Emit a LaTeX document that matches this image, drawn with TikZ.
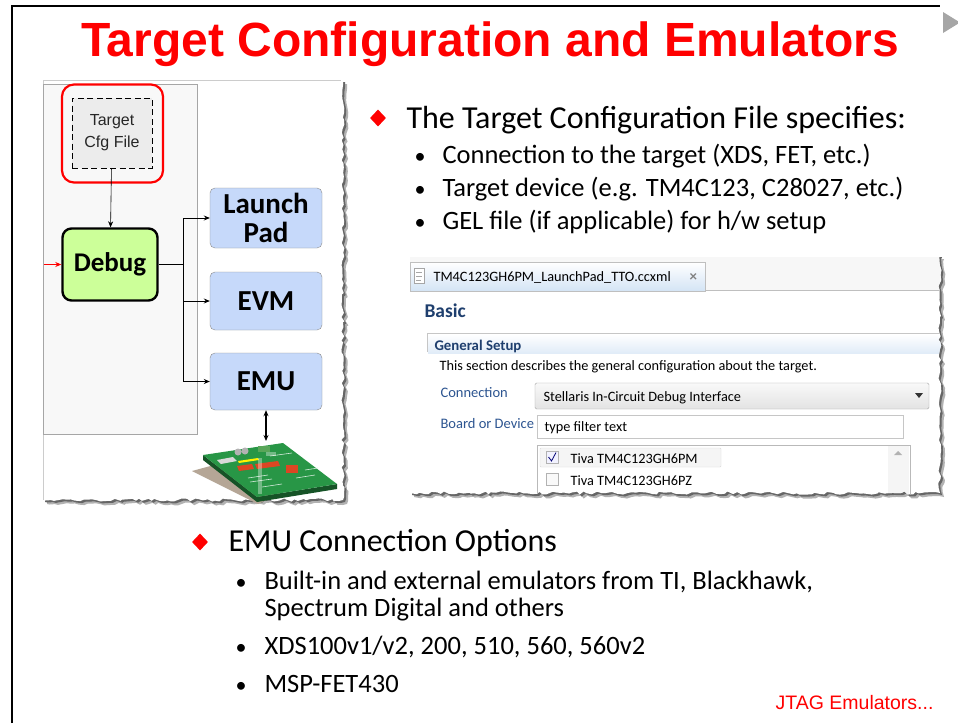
\documentclass[tikz,border=0pt]{standalone}
\usepackage{fontspec}
\setmainfont{Carlito}
\newfontfamily\arialfont{Liberation Sans}
\usetikzlibrary{shapes.geometric,decorations.pathmorphing,arrows.meta,positioning}

\definecolor{slidered}{RGB}{255,0,0}
\definecolor{debuggreen}{RGB}{204,255,153}
\definecolor{boardblue}{RGB}{198,217,250}
\definecolor{panelgray}{RGB}{248,248,248}
\definecolor{cfggray}{RGB}{236,236,236}
\definecolor{basicblue}{RGB}{31,63,110}
\definecolor{labelblue}{RGB}{45,85,145}
\definecolor{tabblue}{RGB}{212,228,245}
\definecolor{pcbgreen}{RGB}{40,150,70}

\begin{document}
\begin{tikzpicture}[x=1pt, y=-1pt, >={Stealth[length=6pt,width=5pt]},
  decoration={random steps, segment length=4pt, amplitude=1.6pt},
  headline/.style={anchor=base west, font=\fontsize{32}{34}\selectfont},
  item/.style={anchor=base west, font=\fontsize{26.5}{29}\selectfont},
  dot/.style={anchor=base west, font=\fontsize{22}{22}\selectfont},
  diam/.style={diamond, fill=slidered, inner sep=0pt, minimum width=16pt, minimum height=17pt},
  boardbox/.style={draw=black!45, fill=boardblue, rounded corners=5pt, minimum width=112pt,
    inner sep=0pt, align=center, font=\bfseries\fontsize{29}{29}\selectfont},
  ui/.style={anchor=base west, font=\fontsize{14.3}{16}\selectfont},
  uilabel/.style={ui, text=labelblue, font=\fontsize{14.5}{16}\selectfont}]

\useasboundingbox (0,0) rectangle (958,723);
\fill[white] (0,0) rectangle (958,723);

% slide frame and the next-slide marker
\draw[line width=2.6pt] (12,723) -- (12,6) -- (940,6);
\fill[gray!70] (943,12) -- (960,22.5) -- (943,33) -- cycle;

\node[font=\arialfont\bfseries\fontsize{48}{52}\selectfont, text=slidered] (title) at (490,44) {Target Configuration and Emulators};

% ---- left screenshot: block diagram ----
\pgfmathsetseed{11}
\fill[black!30, shift={(4,4)}] (43,80) -- (343,80) decorate{ -- (343,500) -- (43,500)} -- cycle;
\pgfmathsetseed{11}
\fill[black!60, shift={(2,2)}] (43,80) -- (343,80) decorate{ -- (343,500) -- (43,500)} -- cycle;
\pgfmathsetseed{11}
\fill[white] (43,80) -- (343,80) decorate{ -- (343,500) -- (43,500)} -- cycle;
\draw[gray!40] (43,500) -- (43,80) -- (341,80);
\draw[gray!70, fill=panelgray] (43,84) rectangle (197,434);

\node[draw, dash pattern=on 6pt off 3.5pt, thick, fill=cfggray, minimum width=80pt, minimum height=70pt, align=center,
  text=black!85, font=\arialfont\fontsize{16}{22}\selectfont] (cfg) at (112,133) {Target\\Cfg File};
\node[draw=slidered, line width=2.2pt, rounded corners=12pt, minimum width=101pt, minimum height=98pt] (cfgring) at (112.5,133.5) {};
\node[draw, line width=2.4pt, fill=debuggreen, rounded corners=9pt, minimum width=95pt, minimum height=72pt,
  font=\bfseries\fontsize{27}{30}\selectfont] (debug) at (110,264.5) {Debug};

\node[boardbox, minimum height=60pt] (launch) at (266,218) {Launch\\Pad};
\node[boardbox, minimum height=58pt] (evm) at (266,301) {EVM};
\node[boardbox, minimum height=57pt] (emu) at (266,381.5) {EMU};

\coordinate (feed) at (44,264.5);
\coordinate (split) at (183,264.5);
\coordinate (pcb) at (266,441);
\draw[->, semithick] (cfg) -- (debug);
\draw[->, slidered, thick] (feed) -- (debug);
\draw[thick] (debug) -- (split);
\draw[->, thick] (split) |- (launch);
\draw[->, thick] (split) |- (evm);
\draw[->, thick] (split) |- (emu);
\draw[<->, line width=1.6pt] (emu) -- (pcb);

% target board
\fill[brown!35!gray!70] (192,471) -- (262,452) -- (312,478) -- (258,504) -- cycle;
\fill[pcbgreen!55!black] (203,455) -- (257,497) -- (337,484) -- (337,489) -- (257,502) -- (203,460) -- cycle;
\fill[pcbgreen] (203,455) -- (283,443) -- (337,484) -- (257,497) -- cycle;
\fill[gray!30] (217,460) -- (233,457) -- (237,461) -- (221,464) -- cycle;
\fill[gray!60] (238,452) circle (3.5) (245,451) circle (3.5);
\fill[green!30!gray] (258,446) rectangle (270,452);
\fill[yellow] (238,461) -- (258,458) -- (259,460) -- (239,463) -- cycle;
\fill[red!45!brown] (237,466) -- (252,464) -- (254,469) -- (239,471) -- cycle;
\fill[red!45!brown] (255,464) -- (278,461) -- (280,466) -- (257,469) -- cycle;
\fill[red!45!brown] (286,465) rectangle (298,473);
\draw[white!80!pcbgreen, line width=0.6pt] (270,456) -- (292,453) (296,478) -- (315,475) (305,470) -- (318,468)
  (248,478) -- (268,475) (250,482) -- (272,479) (262,487) -- (282,484);
\fill[white, opacity=0.35] (258,458) -- (262,458) -- (262,494) -- (258,494) -- cycle;
\fill[white, opacity=0.35] (266,452) -- (276,452) -- (276,456) -- (266,456) -- cycle;

% ---- top right bullets ----
\node[diam] (d1) at (378,118) {};
\node[headline] (spec) at (403,128) {The Target Configuration File specifies:};
\foreach \y/\txt [count=\i] in {163/{Connection to the target (XDS, FET, etc.)},
                               196/{Target device (e.g. TM4C123, C28027, etc.)},
                               229/{GEL file (if applicable) for h/w setup}} {
  \node[dot] (dot\i) at (411,\y) {•};
  \node[item] (spec\i) at (439,\y) {\txt};
}

% ---- right screenshot: ccxml editor ----
\pgfmathsetseed{23}
\fill[black!30, shift={(4,4)}] (410,255) -- (940,255) decorate{ -- (940,493) -- (410,493)} -- cycle;
\pgfmathsetseed{23}
\fill[black!60, shift={(2,2)}] (410,255) -- (940,255) decorate{ -- (940,493) -- (410,493)} -- cycle;
\begin{scope}
\pgfmathsetseed{23}
\clip (410,255) -- (940,255) decorate{ -- (940,493) -- (410,493)} -- cycle;
\fill[white] (400,250) rectangle (950,500);
\fill[gray!6] (410,257) rectangle (950,290);
\shade[top color=white, bottom color=tabblue, draw=gray!50] (410,262) rectangle (705,291);
\draw[gray!50] (705,290) -- (950,290);
\draw[gray!70, fill=white] (414,268) rectangle (424,283);
\draw[gray!70] (416,272) -- (422,272) (416,276) -- (422,276) (416,280) -- (421,280);
\node[ui] (tab) at (430,281) {TM4C123GH6PM\_LaunchPad\_TTO.ccxml};
\node[ui, text=gray, font=\bfseries\fontsize{15}{16}\selectfont] (close) at (686,281) {×};
\node[ui, text=basicblue, font=\bfseries\fontsize{19.5}{21}\selectfont] (basic) at (421,317) {Basic};
\draw[gray!45] (427,352) -- (427,333) -- (950,333);
\shade[top color=white, bottom color=tabblue!70] (428,334) rectangle (950,353);
\node[ui, text=basicblue, font=\bfseries\fontsize{14.8}{16}\selectfont] (setup) at (431,350) {General Setup};
\node[ui] (descr) at (436,370) {This section describes the general configuration about the target.};
\node[uilabel] (conn) at (437,397) {Connection};
\shade[top color=gray!5, bottom color=gray!22, draw=gray!70, rounded corners=1.5pt] (535,383) rectangle (929,409);
\node[ui] (connval) at (540,401) {Stellaris In-Circuit Debug Interface};
\fill[black!80] (915,393) -- (923,393) -- (919,398) -- cycle;
\node[uilabel] (board) at (437,428) {Board or Device};
\draw[gray!45] (537,415) rectangle (903,438);
\node[ui] (filter) at (541,431) {type filter text};
\draw[gray!55] (537,445) rectangle (910,505);
\fill[gray!8] (888,446) rectangle (909,505);
\fill[gray!60] (894,455) -- (902,455) -- (898,451) -- cycle;
\draw[gray!30, fill=gray!8, rounded corners=1pt] (540,448) rectangle (721,467);
\draw[gray!60, fill=blue!5] (546,451) rectangle (558,463);
\draw[blue!45!black, thick] (548.5,457) -- (551.5,461) -- (556,452.5);
\node[ui] (dev1) at (567,463) {Tiva TM4C123GH6PM};
\draw[gray!60, fill=gray!5] (546,473) rectangle (558,485);
\node[ui] (dev2) at (567,485) {Tiva TM4C123GH6PZ};
\end{scope}

% ---- emulator options ----
\node[diam] (d2) at (200,542) {};
\node[headline] (emuopt) at (225,551) {EMU Connection Options};
\node[dot] (dot4) at (232,589) {•};
\node[item] (opt1) at (261,589) {Built-in and external emulators from TI, Blackhawk,};
\node[item] (opt1b) at (261,616) {Spectrum Digital and others};
\node[dot] (dot5) at (232,654) {•};
\node[item] (opt2) at (261,654) {XDS100v1/v2, 200, 510, 560, 560v2};
\node[dot] (dot6) at (232,692) {•};
\node[item] (opt3) at (261,692) {MSP-FET430};

\node[anchor=base east, text=slidered, font=\arialfont\fontsize{19.5}{22}\selectfont] (next) at (937,709) {JTAG Emulators...};
\end{tikzpicture}
\end{document}
